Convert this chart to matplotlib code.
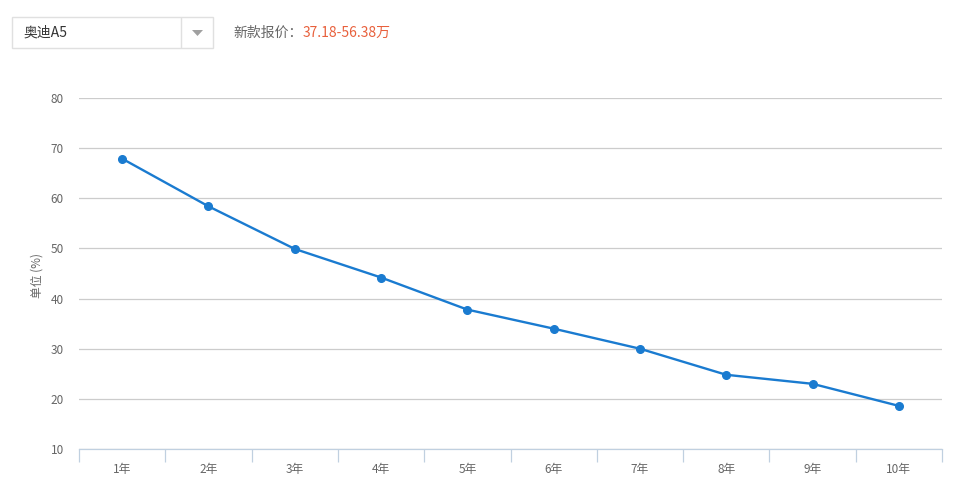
import matplotlib
matplotlib.use("Agg")
import matplotlib.pyplot as plt
from matplotlib.patches import Rectangle, Polygon
from matplotlib.lines import Line2D

plt.rcParams["font.family"] = ["Noto Sans CJK SC", "DejaVu Sans"]

# data
years = ["1年", "2年", "3年", "4年", "5年", "6年", "7年", "8年", "9年", "10年"]
retention = [67.9, 58.4, 49.9, 44.2, 37.8, 34.0, 30.0, 24.8, 23.0, 18.6]
y_ticks = [10, 20, 30, 40, 50, 60, 70, 80]

car_name = "奥迪A5"
price_label = "新款报价："
price_range = "37.18-56.38万"

W, H = 960, 490
fig = plt.figure(figsize=(W / 100, H / 100), dpi=100)
fig.patch.set_facecolor("white")

# axes placed in pixel coordinates of the reference
left, right, top, bottom = 79, 942, 98, 449
ax = fig.add_axes([left / W, 1 - bottom / H, (right - left) / W, (bottom - top) / H])

x = list(range(len(years)))
ax.plot(x, retention, color="#1a7bd0", lw=1.7, marker="o", ms=5.5,
        markerfacecolor="#1a7bd0", markeredgecolor="#1a7bd0", zorder=3)

ax.set_xlim(-0.5, len(years) - 0.5)
ax.set_ylim(10, 80)
ax.set_yticks(y_ticks)
ax.set_yticklabels([str(v) for v in y_ticks])
ax.yaxis.grid(True, color="#cccccc", lw=0.9)
ax.set_axisbelow(True)

# category axis: labels in the middle of bands, ticks at band edges
ax.set_xticks(x)
ax.set_xticklabels(years)
ax.set_xticks([i - 0.5 for i in range(len(years) + 1)], minor=True)
ax.tick_params(axis="x", which="major", length=0, pad=10, labelsize=8.5, labelcolor="#666666")
ax.tick_params(axis="x", which="minor", length=9, color="#c0d0e0", width=0.9)
ax.tick_params(axis="y", length=0, pad=11, labelsize=8.5, labelcolor="#666666")

for side in ["top", "right", "left"]:
    ax.spines[side].set_visible(False)
ax.spines["bottom"].set_color("#c0d0e0")
ax.spines["bottom"].set_linewidth(0.9)

fig.text(37 / W, 1 - 276 / H, "单位 (%)", rotation=90, ha="center", va="center",
         fontsize=8.5, color="#666666")

# header: dropdown box and price
fig.patches.append(Rectangle((12 / W, 1 - 48 / H), (213 - 12) / W, (48 - 17) / H,
                             transform=fig.transFigure, facecolor="white",
                             edgecolor="#e0e0e0", lw=1))
fig.lines.append(Line2D([181 / W, 181 / W], [1 - 18 / H, 1 - 47 / H],
                        transform=fig.transFigure, color="#e0e0e0", lw=1))
fig.patches.append(Polygon([(192 / W, 1 - 30 / H), (203 / W, 1 - 30 / H),
                            (197.5 / W, 1 - 36 / H)], closed=True,
                           transform=fig.transFigure, facecolor="#a0a0a0",
                           edgecolor="none"))
fig.text(24 / W, 1 - 33 / H, car_name, ha="left", va="center", fontsize=10, color="#333333")
t = fig.text(233 / W, 1 - 33 / H, price_label, ha="left", va="center",
             fontsize=10, color="#666666")
fig.canvas.draw()
bb = t.get_window_extent()
fig.text(bb.x1 / W, 1 - 33 / H, price_range, ha="left", va="center",
         fontsize=10, color="#e8603c")

fig.savefig("out.png", dpi=100, facecolor="white")
